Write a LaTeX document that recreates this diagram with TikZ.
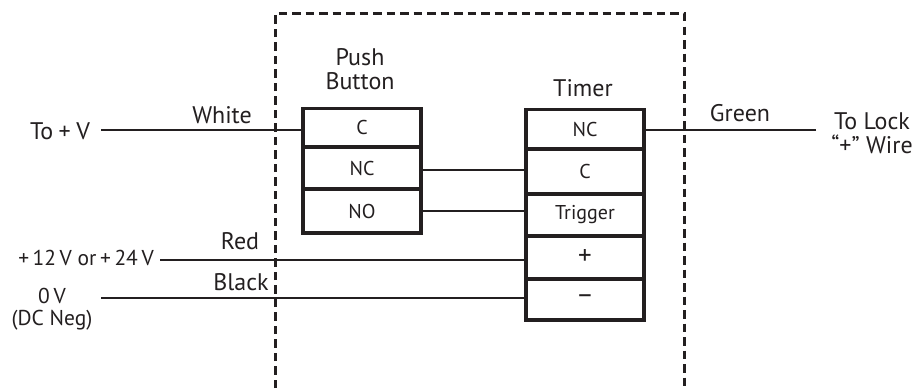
\documentclass[tikz,border=0pt]{standalone}
\usepackage{fontspec}
\setmainfont{PT Sans}
\definecolor{ink}{HTML}{231F20}
\tikzset{
  px/.style={x=1pt,y=-1pt},
  cell/.style={draw=ink,line width=3.3pt,inner sep=0pt,outer sep=0pt,anchor=north west,font=\fontsize{20}{22}\selectfont,text=ink},
  lab/.style={inner sep=0pt,font=\fontsize{24}{24.5}\selectfont,text=ink,align=center},
  small/.style={inner sep=0pt,font=\fontsize{21.5}{24}\selectfont,text=ink,align=center},
  wire/.style={draw=ink,line width=2.4pt},
  frame/.style={draw=ink,line width=3pt,dash pattern=on 8.5pt off 5pt}
}
\begin{document}
\begin{tikzpicture}[px]
\useasboundingbox (0,0) rectangle (917,388);
% frame
\coordinate (fa) at (275,388);
\coordinate (fb) at (275,13.5);
\coordinate (fc) at (684,13.5);
\coordinate (fd) at (684,388);
% push button
\node[cell,minimum width=118pt,minimum height=38.5pt] (pbc) at (303,108.5) {C};
\node[cell,minimum width=118pt,minimum height=42pt] (pbnc) at (303,147) {NC};
\node[cell,minimum width=118pt,minimum height=44pt] (pbno) at (303,189) {NO};
% timer
\node[cell,minimum width=118pt,minimum height=39.5pt] (tnc) at (526,109.5) {NC};
\node[cell,minimum width=118pt,minimum height=45pt] (tc) at (526,149) {C};
\node[cell,minimum width=118pt,minimum height=42pt] (ttr) at (526,194) {Trigger};
\node[cell,minimum width=118pt,minimum height=43pt,font=\fontsize{27}{28}\selectfont] (tp) at (526,236) {+};
\node[cell,minimum width=118pt,minimum height=41pt,font=\fontsize{27}{28}\selectfont] (tm) at (526,279) {–};
% labels
\node[lab] (push) at (360,69) {Push\\Button};
\node[lab] (timer) at (583,88) {Timer};
\node[lab] (white) at (222,115) {White};
\node[lab] (green) at (740,113) {Green};
\node[lab] (red) at (240,241) {Red};
\node[lab] (black) at (241,282) {Black};
\node[lab] (tov) at (60,131) {To\kern5.5pt+\kern5.5pt V};
\node[small] (v1224) at (86,258) {+\,12\,V or\,+\,24\,V};
\node[small] (zv) at (52,296) {0\,V};
\node[small] (dc) at (52,320) {(DC Neg)};
\node[lab] (lock) at (872,133) {To Lock\\“+” Wire};
% free ends
\coordinate (w1) at (101,130);
\coordinate (w2) at (160,260);
\coordinate (w3) at (101,298);
\coordinate (w4) at (816,130);
\coordinate (w5) at (423,170);
\coordinate (w6) at (423,211);
% connectors
\draw[frame] (fa) -- (fb) -- (fc) -- (fd);
\draw[wire] (w1) -- (w1 -| pbc.west);
\draw[wire] (w2) -- (w2 -| tp.west);
\draw[wire] (w3) -- (w3 -| tm.west);
\draw[wire] (w4) -- (w4 -| tnc.east);
\draw[wire] (w5 -| pbnc.east) -- (w5 -| tc.west);
\draw[wire] (w6 -| pbno.east) -- (w6 -| ttr.west);
\end{tikzpicture}
\end{document}
